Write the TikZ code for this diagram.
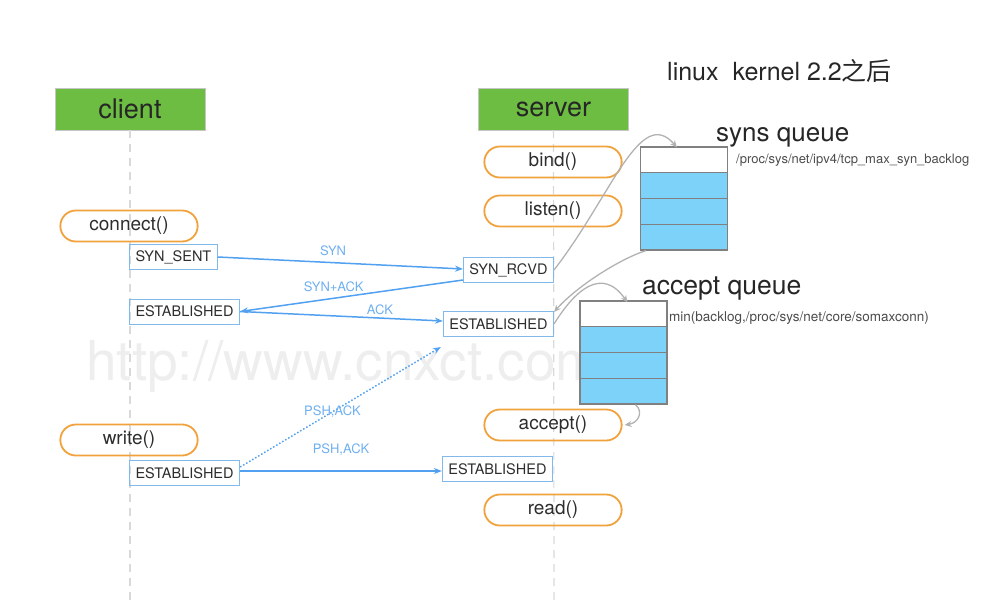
\documentclass[tikz,border=0pt]{standalone}
\usepackage{fontspec}
\setmainfont{TeX Gyre Heros}
\newfontfamily\cjk{Noto Sans CJK SC}
\usepackage{xcolor}
\usepackage{tikz}
\usetikzlibrary{shapes.misc}
\usetikzlibrary{arrows.meta}
\usetikzlibrary{positioning}

\definecolor{rolegreen}{RGB}{108,189,66}
\definecolor{callorange}{RGB}{240,162,60}
\definecolor{stateblue}{RGB}{130,185,235}
\definecolor{msgblue}{RGB}{82,160,240}
\definecolor{labelblue}{RGB}{110,175,240}
\definecolor{queueblue}{RGB}{125,210,250}
\definecolor{queuegray}{RGB}{128,128,128}
\definecolor{textgray}{RGB}{45,45,45}

\begin{document}
\begin{tikzpicture}[
  x=1pt, y=-1pt,
  text=textgray,
  font=\fontsize{14}{14}\selectfont
]
\tikzset{
    rolenode/.style = {rectangle, draw=gray!45, fill=rolegreen, minimum width=150pt, minimum height=42pt, font=\fontsize{27}{27}\selectfont, text=black!85},
    callnode/.style = {rounded rectangle, draw=callorange, line width=1.8pt, minimum width=144pt, minimum height=31pt, font=\fontsize{19}{19}\selectfont},
    statenode/.style = {rectangle, draw=stateblue, line width=1pt, minimum height=25pt, inner xsep=6pt, font=\fontsize{14.5}{14.5}\selectfont},
    queuecell/.style = {rectangle, draw=queuegray, line width=1.3pt, minimum width=87pt, minimum height=25.75pt},
    lifeline/.style = {draw=gray!30, line width=1.2pt, dash pattern=on 8pt off 6pt},
    msgarrow/.style = {draw=msgblue, line width=1.5pt, -{Stealth[length=8pt,width=6pt]}},
    msglabel/.style = {text=labelblue, font=\fontsize{13}{13}\selectfont, inner sep=1pt},
    queuearrow/.style = {draw=gray!60, line width=1.3pt, -{Stealth[length=7pt,width=6pt]}},
    notenode/.style = {anchor=west, text=black!70, inner sep=0pt}
}
\useasboundingbox (0,0) rectangle (984,602);

% watermark
\node[anchor=base west, text=gray!13, font=\fontsize{55}{55}\selectfont, inner sep=0pt] (mark) at (86,380) {http://www.cnxct.com};

% roles and lifelines
\node[rolenode] (client) at (130,109) {client};
\node[rolenode] (server) at (553.5,109) {server};
\coordinate (clientend) at (130,600);
\coordinate (serverend) at (554,600);
\draw[lifeline] (client) -- (clientend);
\draw[lifeline] (server) -- (serverend);

% calls
\node[callnode] (connect) at (129,226) {connect()};
\node[callnode] (write) at (129,440) {write()};
\node[callnode] (bind) at (553,162) {bind()};
\node[callnode] (listen) at (553,211) {listen()};
\node[callnode] (accept) at (553,425) {accept()};
\node[callnode] (read) at (553,510) {read()};

% states
\node[statenode, anchor=west] (sent) at (129,257) {SYN\_SENT};
\node[statenode, anchor=west] (cliest) at (129,311.5) {ESTABLISHED};
\node[statenode, anchor=west] (cliest2) at (129,473) {ESTABLISHED};
\node[statenode, anchor=east] (rcvd) at (554,270) {SYN\_RCVD};
\node[statenode, anchor=east] (srvest) at (554,324) {ESTABLISHED};
\node[statenode, anchor=east] (srvest2) at (553,469) {ESTABLISHED};

% handshake and data
\draw[msgarrow] (sent.east) -- ([yshift=1pt]rcvd.west) node[msglabel, pos=0.47, above=5pt] {SYN};
\draw[msgarrow] ([yshift=3pt]rcvd.south west) -- (cliest.east) node[msglabel, pos=0.58, above=5pt] {SYN+ACK};
\draw[msgarrow] (cliest.east) -- ([yshift=3pt]srvest.west) node[msglabel, pos=0.69, above=2pt] {ACK};
\draw[msgarrow, dotted] ([yshift=6pt]cliest2.east) -- ([xshift=-2pt,yshift=-10pt]srvest.south west) node[msglabel, pos=0.46] {PSH,ACK};
\draw[msgarrow] ([yshift=2pt]cliest2.east) -- ([yshift=-2pt]srvest2.west) node[msglabel, pos=0.5, above=14pt] {PSH,ACK};

% queues
\foreach \i/\c in {0/white,1/queueblue,2/queueblue,3/queueblue}
  \node[queuecell, fill=\c] (synq\i) at (684,{159.9+25.75*\i}) {};
\foreach \i/\c in {0/white,1/queueblue,2/queueblue,3/queueblue}
  \node[queuecell, fill=\c] (accq\i) at (623.5,{313.9+25.75*\i}) {};

\node[anchor=base west, inner sep=0pt, font=\fontsize{26}{26}\selectfont, text=black!85] (synlabel) at (716,141) {syns queue};
\node[anchor=base west, inner sep=0pt, font=\fontsize{26.5}{26.5}\selectfont, text=black!85] (acclabel) at (642,294) {accept queue};
\node[notenode, font=\fontsize{13}{13}\selectfont] (synnote) at (736,160) {/proc/sys/net/ipv4/tcp\_max\_syn\_backlog};
\node[notenode, font=\fontsize{13.5}{13.5}\selectfont] (accnote) at (669,318) {min(backlog,/proc/sys/net/core/somaxconn)};
\node[anchor=base west, inner sep=0pt, font=\fontsize{25}{25}\selectfont, text=black!85] (kernel) at (667,80) {linux\ \ kernel 2.2{\cjk 之后}};

% queue moves
\draw[queuearrow] (rcvd.east) .. controls (612,195) and (640,105) .. ([xshift=-7pt,yshift=-1pt]synq0.north);
\draw[queuearrow] ([xshift=6pt]synq3.south west) .. controls (622,258) and (578,285) .. ([yshift=-1pt]srvest.north east);
\draw[queuearrow] (srvest.east) .. controls (575,290) and (602,266) .. ([xshift=4pt,yshift=-2pt]accq0.north);
\draw[queuearrow] ([xshift=12pt]accq3.south) .. controls (644,412) and (638,423) .. ([xshift=2pt]accept.east);
\end{tikzpicture}
\end{document}
